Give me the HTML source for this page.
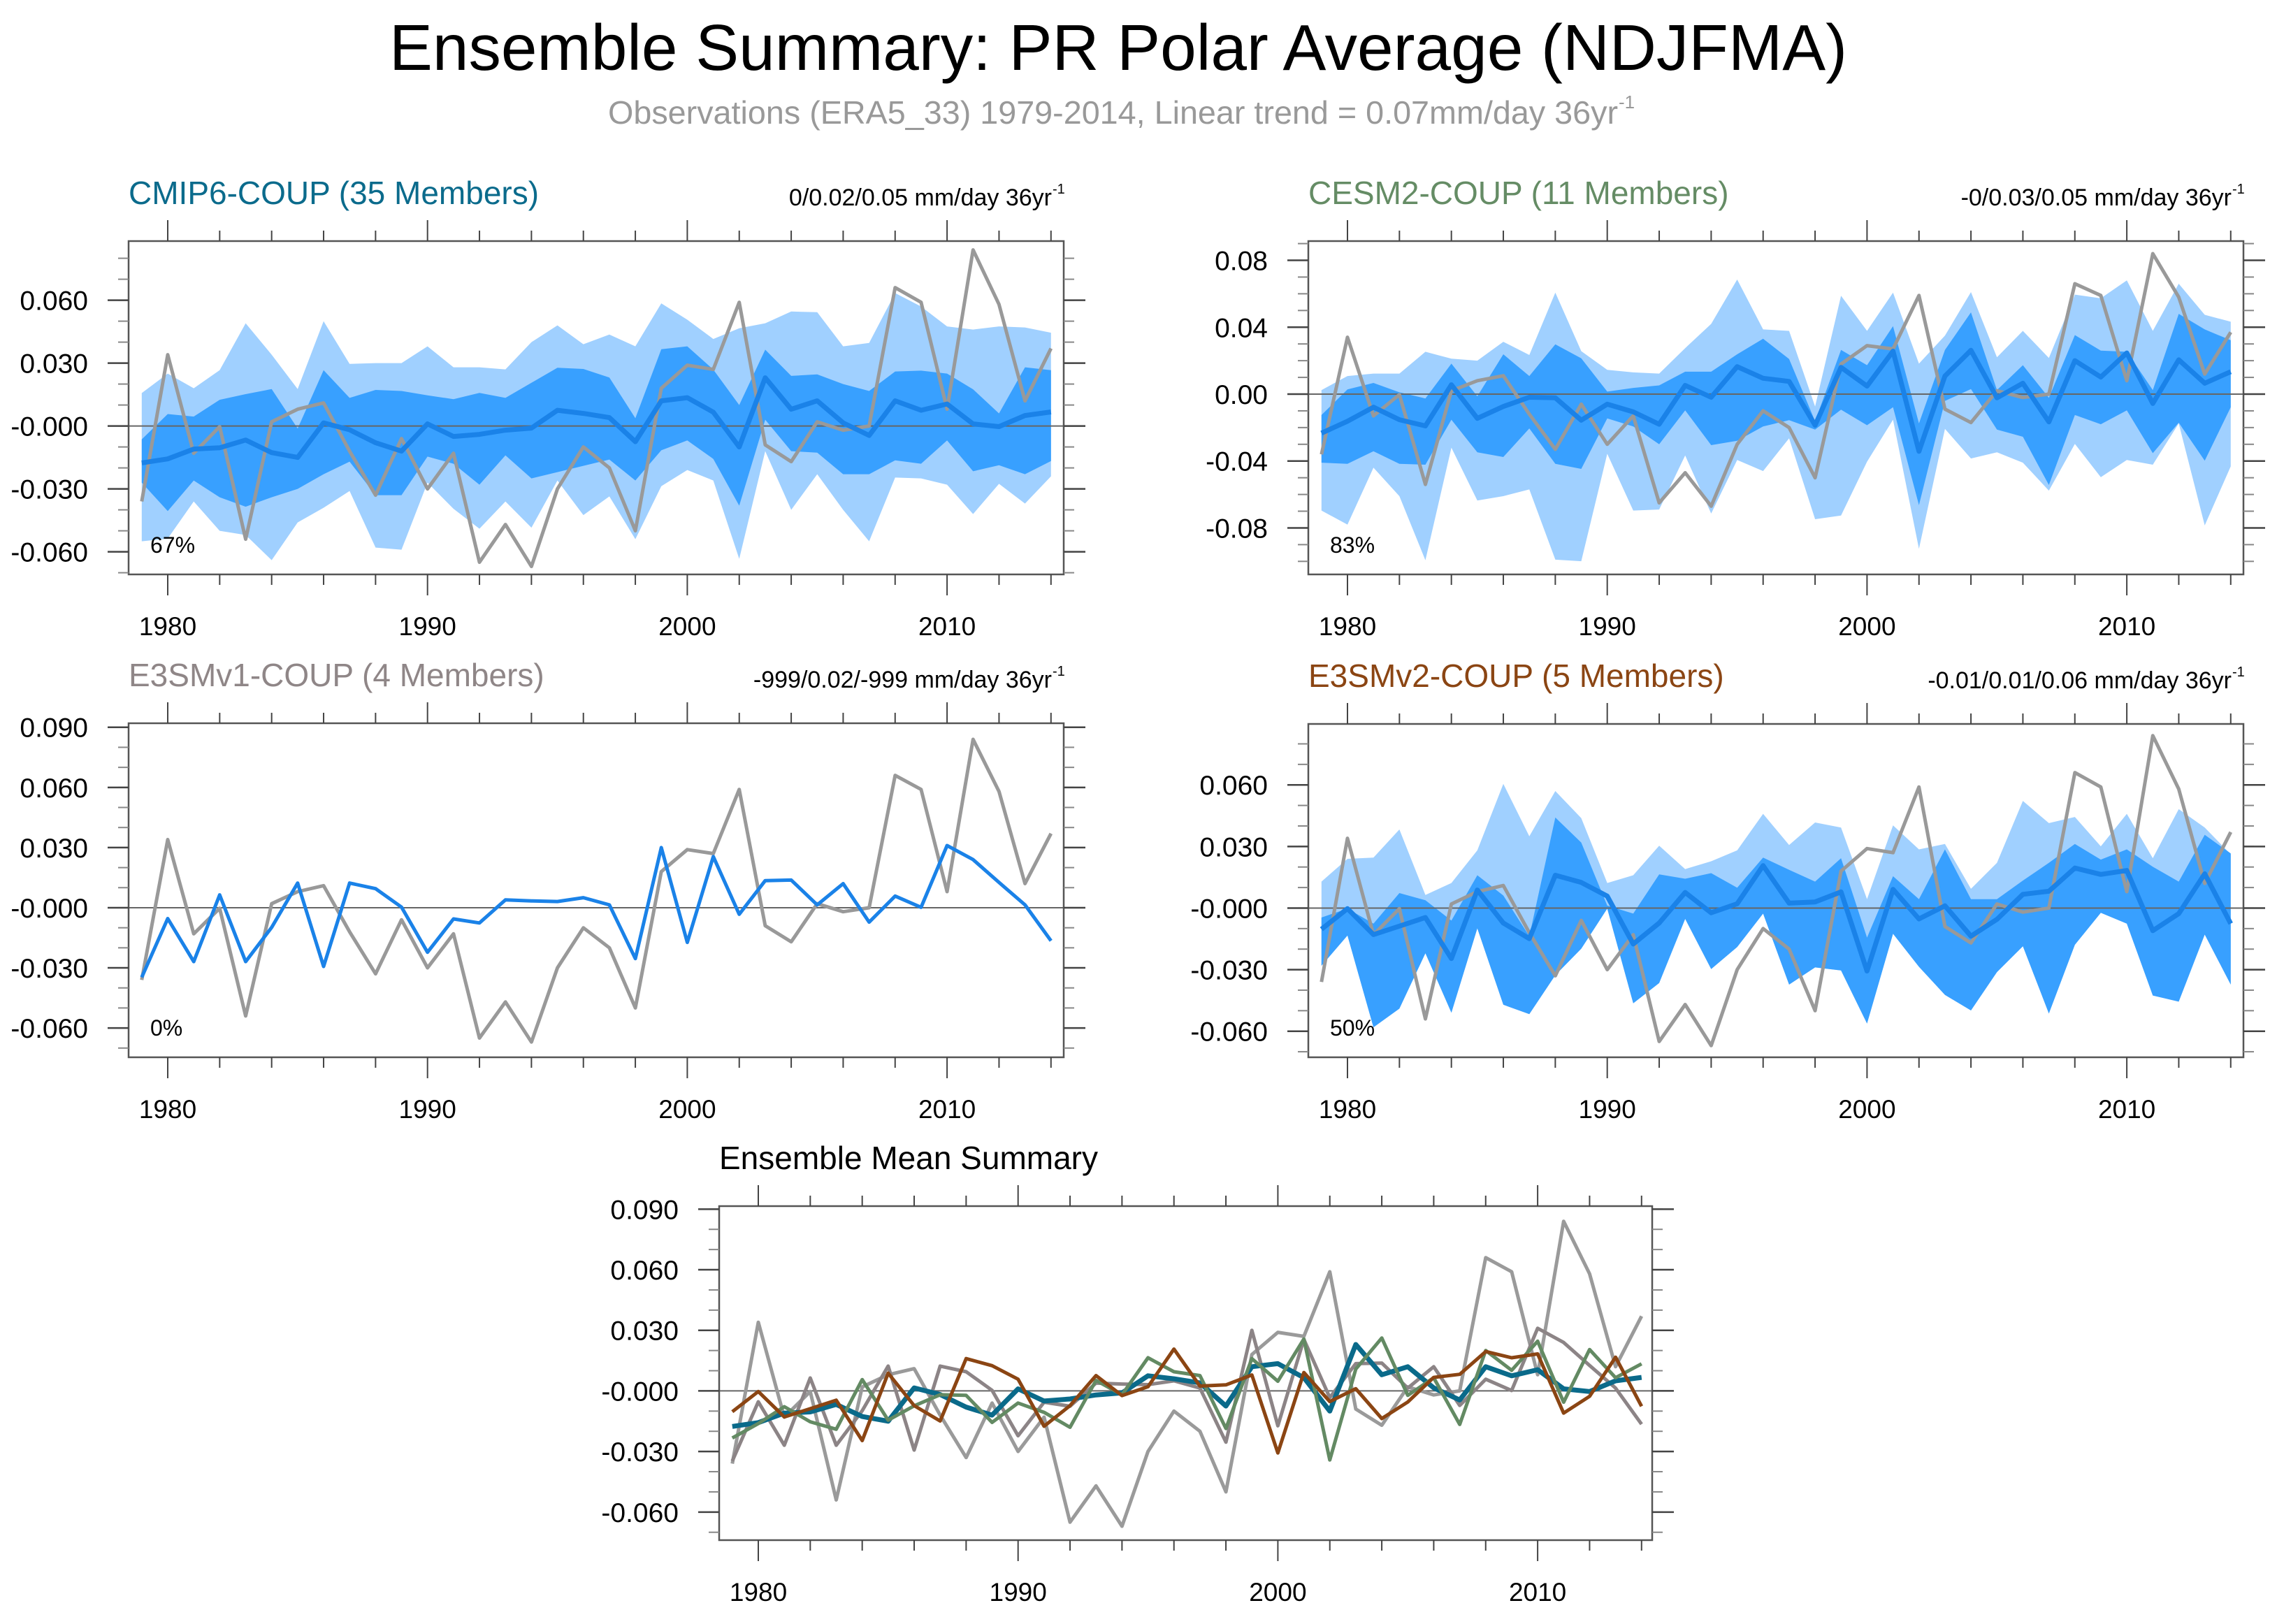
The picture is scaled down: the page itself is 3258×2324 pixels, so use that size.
<!DOCTYPE html>
<html><head><meta charset="utf-8">
<style>
html,body{margin:0;padding:0;background:#fff;}
svg{display:block;font-family:"Liberation Sans",Arial,sans-serif;}
</style></head>
<body>
<svg id="fig" width="3258" height="2324" viewBox="0 0 3258 2324" xmlns="http://www.w3.org/2000/svg">
<rect width="3258" height="2324" fill="#fff"/>
<text x="557" y="100" font-size="93" textLength="2086" lengthAdjust="spacingAndGlyphs" fill="#000">Ensemble Summary: PR Polar Average (NDJFMA)</text>
<text x="870" y="177" font-size="46" textLength="1445" lengthAdjust="spacingAndGlyphs" fill="#999">Observations (ERA5_33) 1979-2014, Linear trend = 0.07mm/day 36yr</text>
<text x="2316" y="155" font-size="26" fill="#999">-1</text>
<g id="plots"></g>
</svg>
<script>
// ---- data (mm/day anomalies), years 1979..2014 ----
const years = [];
for (let y = 1979; y <= 2014; y++) years.push(y);

const obs = [-0.036,0.034,-0.013,-0.0003,-0.054,0.002,0.008,0.011,-0.012,-0.033,-0.006,-0.030,-0.013,-0.065,-0.047,-0.067,-0.030,-0.010,-0.020,-0.050,0.018,0.029,0.027,0.059,-0.009,-0.017,0.002,-0.002,0.000,0.066,0.059,0.008,0.084,0.058,0.012,0.037];

const cmip6Mean = [-0.0176,-0.0157,-0.011,-0.0104,-0.0067,-0.0127,-0.015,0.0015,-0.0018,-0.008,-0.012,0.001,-0.005,-0.004,-0.002,-0.001,0.0075,0.006,0.004,-0.0075,0.012,0.0135,0.0066,-0.010,0.023,0.008,0.012,0.0015,-0.0045,0.012,0.0075,0.0105,0.001,-0.0003,0.005,0.0067];
const cmip6OuterHi = [0.0157,0.025,0.018,0.0266,0.049,0.034,0.0176,0.050,0.0296,0.030,0.030,0.038,0.028,0.028,0.027,0.040,0.048,0.039,0.0436,0.038,0.0585,0.0507,0.0415,0.0466,0.049,0.0546,0.0543,0.038,0.0396,0.0634,0.057,0.0475,0.046,0.0475,0.047,0.0445];
const cmip6InnerHi = [-0.0064,0.0057,0.0045,0.0125,0.0152,0.0176,-0.0012,0.0266,0.0134,0.0172,0.0167,0.0146,0.0128,0.0158,0.0134,0.0206,0.0278,0.0272,0.0231,0.0037,0.0366,0.038,0.0269,0.010,0.0364,0.0239,0.0246,0.020,0.0167,0.026,0.0264,0.025,0.0175,0.006,0.028,0.0266];
const cmip6InnerLo = [-0.027,-0.0406,-0.026,-0.034,-0.0385,-0.034,-0.030,-0.023,-0.017,-0.033,-0.033,-0.0146,-0.018,-0.028,-0.014,-0.025,-0.022,-0.019,-0.016,-0.026,-0.0116,-0.0069,-0.0157,-0.038,0.003,-0.012,-0.0127,-0.023,-0.023,-0.0164,-0.018,-0.0069,-0.0216,-0.0187,-0.023,-0.0167];
const cmip6OuterLo = [-0.055,-0.0537,-0.036,-0.050,-0.052,-0.064,-0.046,-0.039,-0.031,-0.058,-0.059,-0.027,-0.0395,-0.049,-0.036,-0.0485,-0.026,-0.0425,-0.0336,-0.054,-0.0287,-0.021,-0.026,-0.0634,-0.012,-0.040,-0.023,-0.040,-0.055,-0.0246,-0.025,-0.028,-0.042,-0.0276,-0.037,-0.024];

const cesm2Mean = [-0.0233,-0.0162,-0.0078,-0.0153,-0.019,0.0056,-0.0145,-0.0074,-0.0019,-0.0022,-0.0156,-0.006,-0.0106,-0.018,0.0052,-0.0019,0.0164,0.0095,0.0076,-0.0186,0.016,0.0048,0.0257,-0.0342,0.0108,0.0262,-0.0022,0.0065,-0.0166,0.020,0.0102,0.0246,-0.0056,0.0205,0.0065,0.0134];
const cesm2OuterHi = [0.0024,0.0108,0.0123,0.0123,0.0253,0.0212,0.020,0.0313,0.0234,0.0607,0.0257,0.0145,0.013,0.0123,0.0275,0.042,0.0685,0.0387,0.0378,-0.0074,0.0588,0.0378,0.0607,0.0182,0.035,0.061,0.022,0.0378,0.0216,0.0595,0.0573,0.068,0.0378,0.066,0.0474,0.0433];
const cesm2InnerHi = [-0.0125,0.0028,0.0067,0.0011,-0.0026,0.0182,-0.0013,0.0238,0.0108,0.0298,0.0214,0.0015,0.0037,0.0052,0.0134,0.0134,0.0238,0.0331,0.021,-0.0162,0.0264,0.0173,0.0406,-0.0175,0.0264,0.0489,0.0024,0.0173,-0.0022,0.0353,0.026,0.0253,0.0024,0.048,0.0387,0.0322];
const cesm2InnerLo = [-0.041,-0.0417,-0.0342,-0.0417,-0.0422,-0.0153,-0.0348,-0.0376,-0.0205,-0.0417,-0.0447,-0.0145,-0.0193,-0.030,-0.0097,-0.0305,-0.0279,-0.0193,-0.0156,-0.0212,-0.0093,-0.0186,-0.0078,-0.0664,-0.0041,0.003,-0.0212,-0.0255,-0.0543,-0.0125,-0.018,-0.0097,-0.0353,-0.0171,-0.0398,-0.0078];
const cesm2OuterLo = [-0.0696,-0.078,-0.044,-0.061,-0.0993,-0.032,-0.0636,-0.061,-0.057,-0.099,-0.0999,-0.0357,-0.0696,-0.069,-0.0367,-0.0714,-0.0394,-0.046,-0.0264,-0.0748,-0.0726,-0.0404,-0.0153,-0.0925,-0.0208,-0.0385,-0.0348,-0.041,-0.0577,-0.0298,-0.0497,-0.0394,-0.0422,-0.0175,-0.0785,-0.0432];

const e3smv1Mean = [-0.0347,-0.0054,-0.0269,0.0064,-0.0269,-0.0098,0.0123,-0.0293,0.0123,0.0095,0.0003,-0.0222,-0.0056,-0.0076,0.0039,0.0034,0.0031,0.005,0.0014,-0.0254,0.030,-0.0173,0.0255,-0.0033,0.0135,0.0138,0.0014,0.012,-0.0072,0.0058,0.0002,0.031,0.024,0.0126,0.0014,-0.0165];

const e3smv2Mean = [-0.0103,-0.0003,-0.0129,-0.0088,-0.0046,-0.0246,0.0088,-0.0073,-0.0149,0.016,0.0125,0.0058,-0.0175,-0.0073,0.0076,-0.0023,0.0021,0.0207,0.0024,0.003,0.0079,-0.0307,0.0091,-0.0053,0.0011,-0.0137,-0.0055,0.0067,0.0082,0.0195,0.0164,0.0183,-0.011,-0.0027,0.0167,-0.0076];
const e3smv2OuterHi = [0.0129,0.024,0.0246,0.0383,0.0064,0.0122,0.0281,0.0605,0.035,0.057,0.0438,0.0122,0.016,0.0304,0.019,0.0228,0.0281,0.0459,0.0307,0.0417,0.0392,0.0043,0.0403,0.0286,0.0312,0.0094,0.022,0.0522,0.0414,0.0444,0.0301,0.0459,0.0243,0.0482,0.0392,0.0262];
const e3smv2InnerHi = [-0.0046,-0.0003,-0.0076,0.0073,0.0038,-0.0061,0.016,0.0061,-0.0137,0.0441,0.0319,0.0012,-0.0027,0.0164,0.0143,0.017,0.0099,0.0246,0.0186,0.0129,0.0243,-0.0144,0.0155,0.0043,0.0286,0.0043,0.0043,0.0134,0.022,0.0312,0.0236,0.0286,0.0201,0.0129,0.0357,0.0266];
const e3smv2InnerLo = [-0.0281,-0.0134,-0.0581,-0.049,-0.022,-0.051,-0.0099,-0.0471,-0.0517,-0.0327,-0.0198,-0.0003,-0.0464,-0.0365,-0.0053,-0.0297,-0.019,-0.0027,-0.0373,-0.0289,-0.0304,-0.0563,-0.0125,-0.0286,-0.0423,-0.0499,-0.0312,-0.0186,-0.0514,-0.0179,-0.0023,-0.0076,-0.0426,-0.0456,-0.0129,-0.0373];

const yTicks1 = [0.06,0.03,0,-0.03,-0.06];
const yTickLabels1 = ["0.060","0.030","-0.000","-0.030","-0.060"];
const yTicks2 = [0.08,0.04,0,-0.04,-0.08];
const yTickLabels2 = ["0.08","0.04","0.00","-0.04","-0.08"];
const yTicks3 = [0.09,0.06,0.03,0,-0.03,-0.06];
const yTickLabels3 = ["0.090","0.060","0.030","-0.000","-0.030","-0.060"];
const xTicks = [1980,1990,2000,2010];
const xTickLabels = ["1980","1990","2000","2010"];

const NS = "http://www.w3.org/2000/svg";
const root = document.getElementById('plots');
const LIGHT = "#a0d0ff", DARK = "#38a0ff", MEANC = "#1a82e8", OBSC = "#999999";

function el(tag, attrs, parent) {
  const e = document.createElementNS(NS, tag);
  for (const k in attrs) e.setAttribute(k, attrs[k]);
  (parent || root).appendChild(e);
  return e;
}

function makePanel(p) {
  const g = el('g', {});
  
  
  const bx = p.x, by = p.y, bw = p.w || 1338, bh = p.h;
  const xOf = yr => bx + 56 + (yr - 1980) * 37.17;
  const yOf = v => by + (p.top - v) / (p.top - p.bot) * bh;
  function band(hi, lo, fill, nm) {
    let d = '';
    years.forEach((yr, i) => { d += (i ? 'L' : 'M') + xOf(yr).toFixed(1) + ' ' + yOf(hi[i]).toFixed(1); });
    for (let i = years.length - 1; i >= 0; i--) d += 'L' + xOf(years[i]).toFixed(1) + ' ' + yOf(lo[i]).toFixed(1);
    const b = el('path', {d: d + 'Z', fill: fill}, g);
    
    
  }
  if (p.outerHi) band(p.outerHi, p.outerLo, LIGHT, 'outer-spread-band');
  if (p.innerHi) band(p.innerHi, p.innerLo, DARK, 'inner-spread-band');
  const z = el('line', {x1: bx, x2: bx + bw + 31, y1: yOf(0), y2: yOf(0), stroke: '#666', 'stroke-width': 2}, g);
  
  
  function line(vals, color, w, nm) {
    let d = '';
    years.forEach((yr, i) => { d += (i ? 'L' : 'M') + xOf(yr).toFixed(1) + ' ' + yOf(vals[i]).toFixed(1); });
    const l = el('path', {d: d, fill: 'none', stroke: color, 'stroke-width': w, 'stroke-linejoin': 'round'}, g);
    
    
  }
  p.lines.forEach(s => line(s.vals, s.color, s.w, s.name));
  const fr = el('rect', {x: bx, y: by, width: bw, height: bh, fill: 'none', stroke: '#555', 'stroke-width': 2.5}, g);
  
  
  for (let yr = 1980; yr <= 2014; yr += 2) {
    const major = yr % 10 === 0;
    const len = major ? 30 : 15;
    el('line', {x1: xOf(yr), x2: xOf(yr), y1: by, y2: by - len, stroke: '#444', 'stroke-width': 2}, g);
    el('line', {x1: xOf(yr), x2: xOf(yr), y1: by + bh, y2: by + bh + len, stroke: '#444', 'stroke-width': 2}, g);
  }
  xTicks.forEach((yr, i) => {
    const t = el('text', {x: xOf(yr), y: by + bh + 87, 'font-size': 37, 'text-anchor': 'middle', fill: '#000'}, g);
    t.textContent = xTickLabels[i];
    
    
  });
  for (let v = Math.ceil(p.bot / p.minor) * p.minor; v <= p.top + 1e-9; v += p.minor) {
    const yy = yOf(v);
    el('line', {x1: bx, x2: bx - 15, y1: yy, y2: yy, stroke: '#888', 'stroke-width': 2}, g);
    el('line', {x1: bx + bw, x2: bx + bw + 15, y1: yy, y2: yy, stroke: '#888', 'stroke-width': 2}, g);
  }
  p.yTicks.forEach((v, i) => {
    const yy = yOf(v);
    el('line', {x1: bx, x2: bx - 30, y1: yy, y2: yy, stroke: '#444', 'stroke-width': 2.5}, g);
    el('line', {x1: bx + bw, x2: bx + bw + 31, y1: yy, y2: yy, stroke: '#444', 'stroke-width': 2.5}, g);
    const t = el('text', {x: bx - 58, y: yy + 14, 'font-size': 39, 'text-anchor': 'end', fill: '#000'}, g);
    t.textContent = p.yLabels[i];
    
    
  });
  const tt = el('text', {x: bx, y: by - 53, 'font-size': 46, fill: p.titleColor}, g);
  tt.textContent = p.title;
  
  
  if (p.trend) {
    const tr = el('text', {x: bx + bw - 17, y: by - 51, 'font-size': 34, 'text-anchor': 'end', fill: '#000'}, g);
    tr.textContent = p.trend;
    
    
    const sp = el('text', {x: bx + bw - 16, y: by - 68, 'font-size': 20, fill: '#000'}, g);
    sp.textContent = '-1';
    
    
  }
  if (p.pct) {
    const pc = el('text', {x: bx + 31, y: by + bh - 31, 'font-size': 32, fill: '#000'}, g);
    pc.textContent = p.pct;
    
    
  }
}

makePanel({name: 'cmip6-panel', x: 184, y: 345, h: 477, top: 0.0882, bot: -0.0708, minor: 0.01,
  yTicks: yTicks1, yLabels: yTickLabels1, title: 'CMIP6-COUP (35 Members)', titleColor: '#0b6b8c',
  trend: '0/0.02/0.05 mm/day 36yr', pct: '67%',
  outerHi: cmip6OuterHi, outerLo: cmip6OuterLo, innerHi: cmip6InnerHi, innerLo: cmip6InnerLo,
  lines: [{vals: obs, color: OBSC, w: 5, name: 'observations-line'}, {vals: cmip6Mean, color: MEANC, w: 7, name: 'ensemble-mean-line'}]});

makePanel({name: 'cesm2-panel', x: 1872, y: 345, h: 477, top: 0.0915, bot: -0.1078, minor: 0.01,
  yTicks: yTicks2, yLabels: yTickLabels2, title: 'CESM2-COUP (11 Members)', titleColor: '#658c65',
  trend: '-0/0.03/0.05 mm/day 36yr', pct: '83%',
  outerHi: cesm2OuterHi, outerLo: cesm2OuterLo, innerHi: cesm2InnerHi, innerLo: cesm2InnerLo,
  lines: [{vals: obs, color: OBSC, w: 5, name: 'observations-line'}, {vals: cesm2Mean, color: MEANC, w: 7, name: 'ensemble-mean-line'}]});

makePanel({name: 'e3smv1-panel', x: 184, y: 1035, h: 478, top: 0.092, bot: -0.0746, minor: 0.01,
  yTicks: yTicks3, yLabels: yTickLabels3, title: 'E3SMv1-COUP (4 Members)', titleColor: '#8f8687',
  trend: '-999/0.02/-999 mm/day 36yr', pct: '0%',
  lines: [{vals: obs, color: OBSC, w: 5, name: 'observations-line'}, {vals: e3smv1Mean, color: MEANC, w: 5, name: 'ensemble-mean-line'}]});

makePanel({name: 'e3smv2-panel', x: 1872, y: 1036, h: 477, top: 0.0897, bot: -0.0727, minor: 0.01,
  yTicks: yTicks1, yLabels: yTickLabels1, title: 'E3SMv2-COUP (5 Members)', titleColor: '#8b4513',
  trend: '-0.01/0.01/0.06 mm/day 36yr', pct: '50%',
  outerHi: e3smv2OuterHi, outerLo: e3smv2InnerLo, innerHi: e3smv2InnerHi, innerLo: e3smv2InnerLo,
  lines: [{vals: obs, color: OBSC, w: 5, name: 'observations-line'}, {vals: e3smv2Mean, color: MEANC, w: 7, name: 'ensemble-mean-line'}]});

makePanel({name: 'ensemble-mean-summary-panel', x: 1029, y: 1726, w: 1335, h: 478, top: 0.0915, bot: -0.0739, minor: 0.01,
  yTicks: yTicks3, yLabels: yTickLabels3, title: 'Ensemble Mean Summary', titleColor: '#000',
  lines: [{vals: obs, color: '#9a9a9a', w: 5, name: 'observations-line'},
          {vals: e3smv1Mean, color: '#8c8486', w: 5, name: 'e3smv1-mean-line'},
          {vals: cmip6Mean, color: '#0a6a8a', w: 7, name: 'cmip6-mean-line'},
          {vals: cesm2Mean, color: '#638a63', w: 5, name: 'cesm2-mean-line'},
          {vals: e3smv2Mean, color: '#8b4513', w: 5, name: 'e3smv2-mean-line'}]});
</script>
</body></html>
